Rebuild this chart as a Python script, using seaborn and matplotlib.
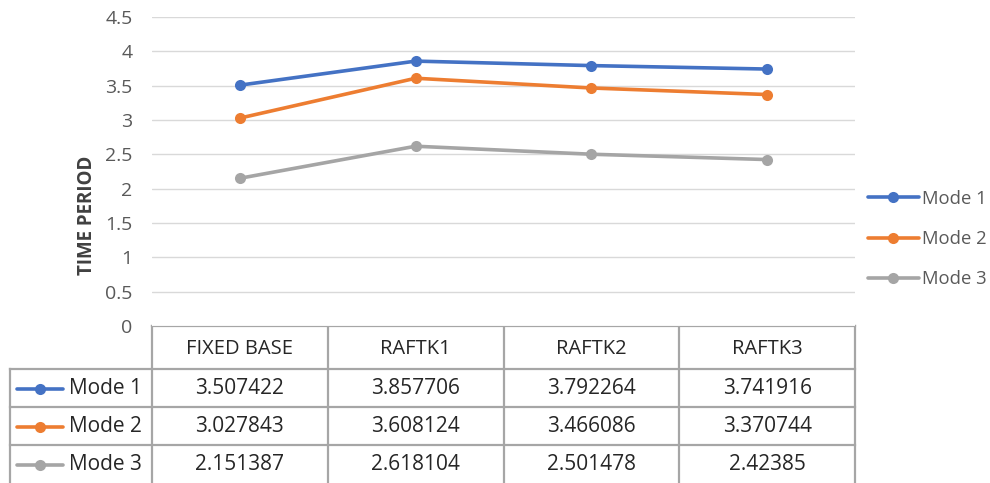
import pandas as pd
import matplotlib
matplotlib.use("Agg")
import matplotlib.pyplot as plt
import matplotlib.transforms as mtransforms
from matplotlib.lines import Line2D
import seaborn as sns

# chart data
configs = ["FIXED BASE", "RAFTK1", "RAFTK2", "RAFTK3"]
modes = ["Mode 1", "Mode 2", "Mode 3"]
mode1 = [3.507422, 3.857706, 3.792264, 3.741916]
mode2 = [3.027843, 3.608124, 3.466086, 3.370744]
mode3 = [2.151387, 2.618104, 2.501478, 2.42385]
y_ticks = [0, 0.5, 1, 1.5, 2, 2.5, 3, 3.5, 4, 4.5]
y_tick_labels = ["0", "0.5", "1", "1.5", "2", "2.5", "3", "3.5", "4", "4.5"]
colors = ["#4472C4", "#ED7D31", "#A5A5A5"]

series = [mode1, mode2, mode3]
df = pd.DataFrame({
    "Config": configs * len(modes),
    "Mode": [m for m in modes for _ in configs],
    "Value": [v for s in series for v in s],
})

sns.set_style("whitegrid")
plt.rcParams["font.family"] = ["Open Sans", "DejaVu Sans"]

W, H = 990, 483
fig = plt.figure(figsize=(W / 100, H / 100), dpi=100)

# plot area in pixels
left, right, top, bottom = 152, 855, 17, 326
ax = fig.add_axes([left / W, (H - bottom) / H, (right - left) / W, (bottom - top) / H])

sns.lineplot(data=df, x="Config", y="Value", hue="Mode", palette=colors,
             marker="o", markersize=8, markeredgewidth=0, linewidth=2.6,
             sort=False, ax=ax, legend=False)

ax.set_xlim(-0.5, len(configs) - 0.5)
ax.set_ylim(0, 4.5)
ax.set_yticks(y_ticks)
ax.set_yticklabels(y_tick_labels, fontsize=14, color="#595959")
ax.tick_params(axis="y", length=0, pad=14)
ax.set_xticks([])
ax.set_xlabel("")
ax.set_ylabel("TIME PERIOD", fontsize=13.5, fontweight="bold", color="#404040")
ax.yaxis.set_label_coords((97 - left) / (right - left), (bottom - 215) / (bottom - top))
ax.grid(axis="y", color="#D9D9D9", linewidth=1)
ax.grid(axis="x", visible=False)
for sp in ax.spines.values():
    sp.set_visible(False)

# legend on the right
handles = [Line2D([], [], color=c, linewidth=2.6, marker="o", markersize=8, markeredgewidth=0)
           for c in colors]
leg = fig.legend(handles, modes, loc="center left", bbox_to_anchor=(868 / W, 1 - 239 / H),
                 frameon=False, fontsize=13.3, handlelength=2.75, handletextpad=0.15,
                 labelspacing=1.2, borderaxespad=0, borderpad=0)
for t in leg.get_texts():
    t.set_color("#595959")

# data table below the plot
tab = fig.add_axes([0, 0, 1, 1], zorder=-1)
tab.set_xlim(0, W)
tab.set_ylim(H, 0)
tab.axis("off")
blend = mtransforms.blended_transform_factory(ax.transData, tab.transData)

line_kw = dict(color="#A6A6A6", linewidth=1.6, solid_capstyle="projecting")
rows = [326, 369, 407, 445, 490]
label_left = 10
txt_color = "#262626"

# horizontal lines
tab.plot([left, right], [rows[0], rows[0]], **line_kw)
for y in rows[1:4]:
    tab.plot([label_left, right], [y, y], **line_kw)
# vertical lines
tab.plot([label_left, label_left], [rows[1], rows[4]], **line_kw)
for i in range(len(configs) + 1):
    ax_x = i - 0.5
    tab.plot([ax_x, ax_x], [rows[0], rows[4]], transform=blend, **line_kw)

# header
for i, c in enumerate(configs):
    tab.text(i, (rows[0] + rows[1]) / 2 + 1, c, transform=blend, ha="center", va="center",
             fontsize=14.5, color=txt_color)

# body rows
for r, (m, s, col) in enumerate(zip(modes, series, colors)):
    yc = (rows[r + 1] + min(rows[r + 2], 483)) / 2 + 1
    tab.plot([17, 63], [yc, yc], color=col, linewidth=2.6)
    tab.plot([40], [yc], marker="o", color=col, markersize=8, markeredgewidth=0)
    tab.text(69, yc, m, ha="left", va="center", fontsize=15, color=txt_color)
    for i, v in enumerate(s):
        tab.text(i, yc, str(v), transform=blend, ha="center", va="center",
                 fontsize=15, color=txt_color)

fig.savefig("out.png", dpi=100, facecolor="white")
